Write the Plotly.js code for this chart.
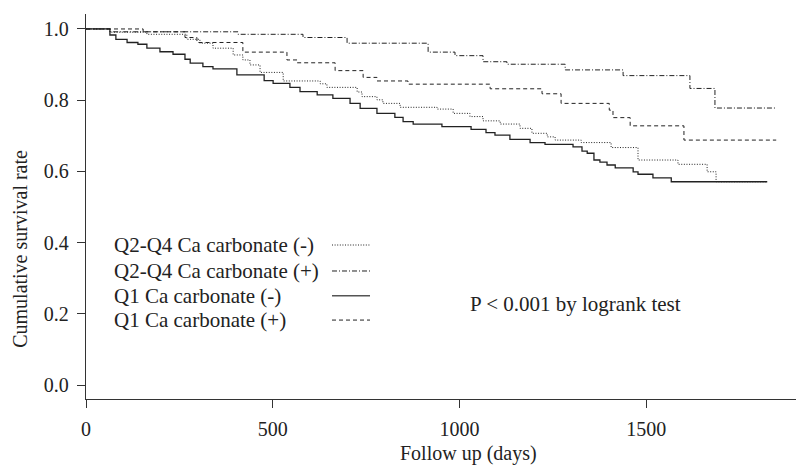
<!DOCTYPE html>
<html>
<head>
<meta charset="utf-8">
<script src="https://cdn.plot.ly/plotly-3.0.1.min.js"></script>
<style>html,body{margin:0;padding:0;background:#fff}#chart{width:796px;height:465px}</style>
</head>
<body>
<div id="chart"></div>
<script>
// Kaplan-Meier step data: start day of each survival level, and its level
var q24negDays = [0,64,163,270,305,340,394,420,439,466,528,627,645,726,739,779,795,841,940,983,1028,1063,1109,1162,1194,1235,1256,1326,1406,1478,1585,1663,1687,1824];
var q24negSurv = [1.0,0.991,0.985,0.971,0.960,0.946,0.927,0.913,0.899,0.878,0.854,0.846,0.836,0.823,0.810,0.801,0.791,0.780,0.775,0.763,0.754,0.742,0.733,0.721,0.707,0.697,0.688,0.681,0.667,0.632,0.620,0.599,0.571,0.571];

var q24posDays = [0,64,407,581,699,916,988,1063,1127,1283,1438,1617,1684,1845];
var q24posSurv = [1.0,0.992,0.985,0.976,0.960,0.935,0.925,0.908,0.901,0.885,0.869,0.833,0.778,0.778];

var q1negDays = [0,64,80,110,139,163,198,233,265,279,313,340,404,477,501,546,573,619,661,707,734,779,827,849,876,953,1031,1071,1095,1135,1189,1229,1304,1328,1342,1360,1376,1395,1417,1465,1478,1518,1567,1824];
var q1negSurv = [1.0,0.983,0.971,0.962,0.957,0.946,0.936,0.929,0.915,0.904,0.894,0.888,0.871,0.855,0.847,0.836,0.824,0.815,0.805,0.791,0.777,0.763,0.752,0.740,0.733,0.726,0.718,0.709,0.702,0.690,0.681,0.676,0.669,0.657,0.651,0.632,0.626,0.618,0.610,0.599,0.592,0.582,0.571,0.571];

var q1posDays = [0,153,265,297,420,538,565,667,742,779,862,1082,1221,1272,1401,1411,1457,1601,1848];
var q1posSurv = [1.0,0.992,0.976,0.962,0.935,0.913,0.905,0.883,0.864,0.854,0.845,0.832,0.818,0.791,0.772,0.751,0.728,0.688,0.688];

var seriesNames = ["Q2-Q4 Ca carbonate (-)", "Q2-Q4 Ca carbonate (+)", "Q1 Ca carbonate (-)", "Q1 Ca carbonate (+)"];
var xTicks = [0, 500, 1000, 1500];
var yTicks = [0.0, 0.2, 0.4, 0.6, 0.8, 1.0];

var FONT = "Liberation Serif, Times New Roman, serif";
var INK = "#222";
var dashes = ["1px,1.6px", "5px,2px,1px,2px", "solid", "4px,3px"];
var widths = [1, 1, 1.3, 1];

var dataSets = [[q24negDays,q24negSurv],[q24posDays,q24posSurv],[q1negDays,q1negSurv],[q1posDays,q1posSurv]];
var traces = dataSets.map(function(d, i){
  return {x: d[0], y: d[1], type: "scatter", mode: "lines", name: seriesNames[i],
    line: {shape: "hv", color: INK, width: widths[i], dash: dashes[i]}, showlegend: false, hoverinfo: "x+y+name"};
});

// manual legend (text on the left, line sample on the right)
var legendY = [0.400, 0.3325, 0.268, 0.205];
var annotations = seriesNames.map(function(n, i){
  return {text: n, xref: "paper", yref: "paper", x: 0.0366, y: legendY[i], xanchor: "left", yanchor: "middle",
    showarrow: false, font: {family: FONT, size: 21, color: INK}};
});
var shapes = seriesNames.map(function(n, i){
  return {type: "line", xref: "paper", yref: "paper", x0: 0.3465, x1: 0.400, y0: legendY[i], y1: legendY[i],
    line: {color: i === 2 ? "#555" : INK, width: i === 2 ? 1.6 : 1, dash: dashes[i]}};
});
annotations.push({text: "P < 0.001 by logrank test", xref: "paper", yref: "paper", x: 0.690, y: 0.247,
  xanchor: "center", yanchor: "middle", showarrow: false, font: {family: FONT, size: 21, color: INK}});
annotations.push({text: "Follow up (days)", xref: "paper", yref: "paper", x: 0.539, y: -0.142,
  xanchor: "center", yanchor: "middle", showarrow: false, font: {family: FONT, size: 20, color: INK}});
annotations.push({text: "Cumulative survival rate", xref: "paper", yref: "paper", x: -0.093, y: 0.39,
  xanchor: "center", yanchor: "middle", textangle: -90, showarrow: false, font: {family: FONT, size: 20, color: INK}});

var layout = {
  width: 796, height: 465,
  margin: {l: 86, r: 0, t: 14, b: 66, pad: 0},
  paper_bgcolor: "#fff", plot_bgcolor: "#fff",
  font: {family: FONT, size: 20, color: INK},
  xaxis: {range: [0, 1901], tickvals: xTicks, ticktext: xTicks.map(String), ticks: "outside", ticklen: 8, tickwidth: 1,
    tickcolor: "#333", showline: true, linecolor: "#333", linewidth: 1.2, showgrid: false, zeroline: false,
    ticklabelstandoff: 4, tickfont: {family: FONT, size: 20, color: INK}},
  yaxis: {range: [-0.039, 1.042], tickvals: yTicks, tickformat: ".1f", ticks: "outside", ticklen: 8, tickwidth: 1,
    tickcolor: "#333", showline: true, linecolor: "#333", linewidth: 1.2, showgrid: false, zeroline: false,
    ticklabelstandoff: 4, tickfont: {family: FONT, size: 20, color: INK}},
  annotations: annotations,
  shapes: shapes,
  showlegend: false
};

Plotly.newPlot("chart", traces, layout, {staticPlot: true, displayModeBar: false});
</script>
</body>
</html>
